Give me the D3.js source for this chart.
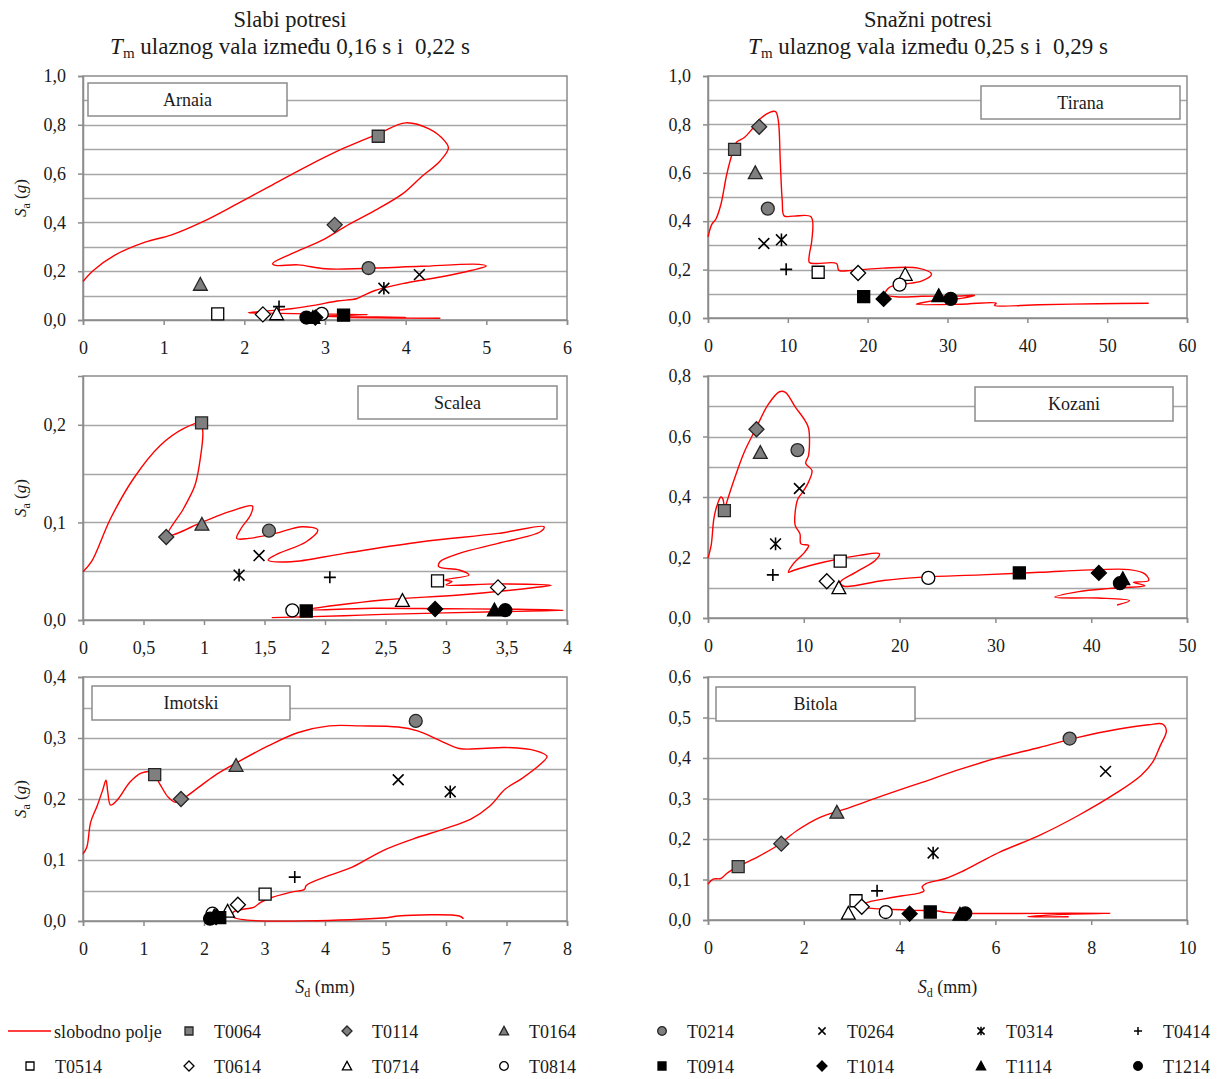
<!DOCTYPE html>
<html><head><meta charset="utf-8">
<script src="https://cdn.jsdelivr.net/npm/d3@7"></script>
<style>
body{margin:0;background:#fff}
svg{display:block}
text{font-family:"Liberation Serif","Times New Roman",serif;fill:#1a1a1a;white-space:pre}
</style>
</head><body>
<svg id="c" width="1221" height="1079"></svg>
<script>
// ---------------- DATA ----------------
const seriesNames = ["T0064","T0114","T0164","T0214","T0264","T0314","T0414","T0514","T0614","T0714","T0814","T0914","T1014","T1114","T1214"];
const freeFieldName = "slobodno polje";
const stations = ["Arnaia","Tirana","Scalea","Kozani","Imotski","Bitola"];
const columnTitles = ["Slabi potresi","Snažni potresi"];
const periodRanges = ["0,16 s i  0,22 s","0,25 s i  0,29 s"];

// marker values (Sd in mm, Sa in g), one per series
const arnaiaSd = [3.66,3.12,1.455,3.54,4.17,3.73,2.43,1.67,2.23,2.40,2.96,3.23,2.88,2.85,2.77];
const arnaiaSa = [0.753,0.39,0.146,0.213,0.186,0.13,0.055,0.025,0.023,0.025,0.025,0.02,0.01,0.01,0.01];
const tiranaSd = [3.33,6.41,5.92,7.49,7.0,9.2,9.79,13.8,18.8,24.7,24.0,19.5,22.0,28.9,30.4];
const tiranaSa = [0.697,0.79,0.6,0.452,0.308,0.323,0.201,0.189,0.186,0.18,0.138,0.088,0.079,0.092,0.079];
const scaleaSd = [0.98,0.688,0.983,1.537,1.455,1.29,2.04,2.93,3.43,2.64,1.73,1.845,2.91,3.40,3.49];
const scaleaSa = [0.202,0.085,0.098,0.0915,0.066,0.046,0.0437,0.040,0.0334,0.020,0.0099,0.0092,0.0113,0.0102,0.010];
const kozaniSd = [1.71,5.06,5.46,9.34,9.54,7.05,6.77,13.8,12.4,13.66,23.0,32.5,40.8,43.3,43.0];
const kozaniSa = [0.355,0.624,0.547,0.555,0.428,0.245,0.1425,0.188,0.1215,0.1,0.1326,0.149,0.149,0.13,0.115];
const imotskiSd = [1.185,1.62,2.53,5.50,5.21,6.07,3.50,3.01,2.56,2.39,2.14,2.26,2.20,2.17,2.10];
const imotskiSa = [0.24,0.2,0.255,0.328,0.2316,0.212,0.072,0.044,0.0267,0.016,0.012,0.0054,0.0065,0.008,0.0038];
const bitolaSd = [0.63,1.53,2.69,7.55,8.30,4.70,3.53,3.09,3.21,2.93,3.71,4.64,4.21,5.26,5.37];
const bitolaSa = [0.132,0.1885,0.266,0.448,0.367,0.1656,0.072,0.0475,0.0328,0.0164,0.0197,0.0197,0.0156,0.014,0.0164];

// free-field (slobodno polje) spectra, Sd (mm) and Sa (g)
const arnaiaFreeSd = [0,0.128,0.39,0.77,1.10,1.48,1.91,2.29,2.77,3.24,3.66,4.00,4.29,4.48,4.53,4.43,4.19,3.96,3.62,3.24,2.96,2.58,2.35,2.39,2.67,3.00,3.48,4.19,4.91,5.00,4.81,4.43,3.96,3.62,3.48,3.39,3.15,2.86,2.58,2.29,2.05,2.29,2.77,3.53,2.91,4.0,3.24,4.43];
const arnaiaFreeSa = [0.158,0.203,0.265,0.319,0.349,0.402,0.476,0.544,0.629,0.705,0.763,0.808,0.783,0.735,0.705,0.653,0.585,0.517,0.449,0.381,0.326,0.271,0.231,0.224,0.226,0.210,0.211,0.220,0.228,0.221,0.203,0.176,0.149,0.121,0.101,0.087,0.078,0.060,0.046,0.037,0.030,0.028,0.025,0.022,0.015,0.011,0.010,0.007];
const tiranaFreeSd = [0,0.49,0.98,1.62,2.35,3.08,3.57,4.55,5.53,6.51,7.73,8.47,8.81,9.05,9.30,9.54,10.7,12.9,13.0,12.7,12.7,13.6,16.1,16.4,18.0,21.9,26.3,28.0,26.8,24.4,22.7,22.2,23.9,26.8,31.7,33.4,31.7,29.3,26.8,26.1,31.7,36.1,35.9,41.5,48.9,55.2];
const tiranaFreeSa = [0.335,0.388,0.408,0.470,0.594,0.684,0.726,0.746,0.781,0.822,0.850,0.853,0.815,0.650,0.484,0.422,0.421,0.418,0.319,0.263,0.229,0.225,0.225,0.197,0.197,0.206,0.206,0.181,0.153,0.139,0.126,0.098,0.087,0.090,0.091,0.094,0.081,0.076,0.063,0.057,0.057,0.061,0.052,0.055,0.059,0.061];
const scaleaFreeSd = [0,0.07,0.228,0.418,0.64,0.83,0.97,0.99,0.97,0.925,0.83,0.70,0.99,1.21,1.40,1.385,1.31,1.27,1.37,1.59,1.81,1.94,1.845,1.59,1.53,1.72,2.16,2.80,3.43,3.81,3.78,3.43,3.11,2.95,2.94,3.11,3.19,2.99,3.05,3.0,3.43,3.87,3.75,3.11,2.48,1.86,2.40,3.00,3.59,3.97,3.43,2.48,2.16,1.56];
const scaleaFreeSa = [0.0495,0.0597,0.104,0.145,0.179,0.196,0.202,0.193,0.166,0.138,0.114,0.0867,0.1005,0.111,0.1168,0.1075,0.0945,0.0836,0.0836,0.0887,0.0956,0.0922,0.0802,0.0666,0.0614,0.0597,0.0683,0.0802,0.0887,0.0956,0.0904,0.0785,0.0683,0.0597,0.0546,0.0512,0.0461,0.041,0.0393,0.036,0.037,0.0355,0.0335,0.0256,0.0205,0.0105,0.012,0.0115,0.011,0.0099,0.0085,0.0058,0.0044,0.0024];
const kozaniFreeSd = [0,0.33,0.61,0.94,1.35,1.55,1.75,1.96,2.77,3.79,5.01,6.24,7.46,8.08,9.10,10.1,10.5,10.5,10.2,10.85,10.5,9.9,9.39,9.10,9.10,9.6,9.7,10.5,10.1,8.9,8.4,8.9,12.15,15.8,17.9,17.45,15.4,13.8,14.2,18.3,22.35,28.5,34.6,40.7,43.96,45.6,46.0,44.4,45.6,42.0,38.7,36.2,40.7,44.0,42.7];
const kozaniFreeSa = [0.198,0.24,0.328,0.372,0.40,0.394,0.361,0.383,0.461,0.549,0.627,0.704,0.748,0.746,0.698,0.654,0.627,0.538,0.511,0.488,0.450,0.417,0.394,0.350,0.306,0.278,0.245,0.240,0.218,0.179,0.151,0.157,0.185,0.207,0.212,0.190,0.151,0.118,0.105,0.124,0.135,0.1425,0.151,0.160,0.160,0.146,0.124,0.118,0.107,0.098,0.087,0.0685,0.066,0.0575,0.043];
const imotskiFreeSd = [0,0.063,0.127,0.235,0.33,0.38,0.41,0.456,0.58,0.77,0.96,1.15,1.27,1.41,1.53,1.66,1.91,2.17,2.55,3.06,3.56,4.07,4.58,5.21,5.53,5.91,6.22,6.6,6.98,7.49,7.67,7.56,7.24,6.98,6.73,6.41,5.97,5.46,4.96,4.45,4.07,3.69,3.66,3.44,3.06,2.93,2.83,2.61,2.485,2.485,5.02,5.21,6.22,6.29];
const imotskiFreeSa = [0.110,0.121,0.162,0.189,0.216,0.231,0.211,0.190,0.200,0.227,0.2425,0.2436,0.2245,0.2027,0.1945,0.201,0.219,0.238,0.260,0.287,0.309,0.3199,0.3199,0.318,0.3117,0.2954,0.2828,0.2828,0.2845,0.279,0.2698,0.257,0.2327,0.2163,0.189,0.167,0.151,0.1346,0.1155,0.0883,0.0747,0.0583,0.0518,0.0474,0.0365,0.030,0.0229,0.0185,0.0147,0.0065,0.0054,0.0082,0.0082,0.0038];
const bitolaFreeSd = [0,0.106,0.27,0.39,0.64,1.04,1.45,1.86,2.35,2.84,3.65,4.47,5.29,6.10,6.92,7.73,8.55,9.2,9.49,9.57,9.44,9.28,9.04,8.55,7.73,6.92,6.10,5.69,5.29,4.96,4.55,4.47,4.51,4.39,4.06,3.65,3.33,3.21,3.33,3.65,4.31,4.80,4.96,5.29,6.92,8.39,7.41,6.67,7.53];
const bitolaFreeSa = [0.0885,0.1008,0.1025,0.1148,0.1328,0.156,0.184,0.221,0.254,0.273,0.307,0.340,0.373,0.402,0.426,0.451,0.471,0.482,0.4836,0.467,0.430,0.389,0.357,0.3156,0.258,0.209,0.168,0.1434,0.119,0.1025,0.090,0.082,0.072,0.0656,0.060,0.0516,0.0434,0.0352,0.030,0.027,0.0238,0.0221,0.0189,0.0164,0.0164,0.0164,0.014,0.0082,0.0082];

// ---------------- LAYOUT / STYLE ----------------
const panelSd = [arnaiaSd,tiranaSd,scaleaSd,kozaniSd,imotskiSd,bitolaSd];
const panelSa = [arnaiaSa,tiranaSa,scaleaSa,kozaniSa,imotskiSa,bitolaSa];
const panelFreeSd = [arnaiaFreeSd,tiranaFreeSd,scaleaFreeSd,kozaniFreeSd,imotskiFreeSd,bitolaFreeSd];
const panelFreeSa = [arnaiaFreeSa,tiranaFreeSa,scaleaFreeSa,kozaniFreeSa,imotskiFreeSa,bitolaFreeSa];

const layout = [
  {x0:83,x1:567,yT:76,yB:320,xMax:6,xStep:1,yMax:1.0,yStep:0.2,gStep:0.1,box:[88,83,199,33],sa:true,sd:false},
  {x0:708,x1:1187,yT:76,yB:318,xMax:60,xStep:10,yMax:1.0,yStep:0.2,gStep:0.1,box:[981,86,199,33],sa:false,sd:false},
  {x0:83,x1:567,yT:376,yB:620,xMax:4,xStep:0.5,yMax:0.25,yStep:0.1,gStep:0.05,box:[358,386,199,33],sa:true,sd:false},
  {x0:708,x1:1187,yT:376,yB:618,xMax:50,xStep:10,yMax:0.8,yStep:0.2,gStep:0.1,box:[975,387,198,34],sa:false,sd:false},
  {x0:83,x1:567,yT:677,yB:921,xMax:8,xStep:1,yMax:0.4,yStep:0.1,gStep:0.05,box:[92,686,198,34],sa:true,sd:true},
  {x0:708,x1:1187,yT:677,yB:920,xMax:10,xStep:2,yMax:0.6,yStep:0.1,gStep:0.1,box:[716,687,199,34],sa:false,sd:true}
];

const GRAY = "#7f7f7f";
const markerStyles = [
  {shape:"square",fill:GRAY,stroke:"#262626"},
  {shape:"diamond",fill:GRAY,stroke:"#262626"},
  {shape:"triangle",fill:GRAY,stroke:"#262626"},
  {shape:"circle",fill:GRAY,stroke:"#262626"},
  {shape:"x",fill:"none",stroke:"#000"},
  {shape:"star",fill:"none",stroke:"#000"},
  {shape:"plus",fill:"none",stroke:"#000"},
  {shape:"square",fill:"#fff",stroke:"#000"},
  {shape:"diamond",fill:"#fff",stroke:"#000"},
  {shape:"triangle",fill:"#fff",stroke:"#000"},
  {shape:"circle",fill:"#fff",stroke:"#000"},
  {shape:"square",fill:"#000",stroke:"#000"},
  {shape:"diamond",fill:"#000",stroke:"#000"},
  {shape:"triangle",fill:"#000",stroke:"#000"},
  {shape:"circle",fill:"#000",stroke:"#000"}
];

function markerPath(shape, r){
  switch(shape){
    case "square": return `M${-r},${-r}H${r}V${r}H${-r}Z`;
    case "diamond": {const d=r*1.25; return `M0,${-d}L${d},0L0,${d}L${-d},0Z`;}
    case "triangle": {const a=r*1.15; return `M0,${-a}L${a},${a*0.85}L${-a},${a*0.85}Z`;}
    case "circle": {const c=r*1.08; return `M${c},0A${c},${c} 0 1,1 ${-c},0A${c},${c} 0 1,1 ${c},0Z`;}
    case "x": {const q=r*0.9; return `M${-q},${-q}L${q},${q}M${q},${-q}L${-q},${q}`;}
    case "star": {const q=r*0.9; return `M${-q},${-q}L${q},${q}M${q},${-q}L${-q},${q}M0,${-r*1.05}V${r*1.05}`;}
    case "plus": return `M${-r},0H${r}M0,${-r}V${r}`;
  }
}

const loc = d3.formatLocale({decimal:",",thousands:".",grouping:[3],currency:["",""]});
const yFmt = loc.format(".1f");
const xFmt = loc.format("~g");

const svg = d3.select("#c");
const GRID = "#a6a6a6", AXIS = "#8c8c8c";
const SERIF = "Liberation Serif, Times New Roman, serif";

layout.forEach((L,i)=>{
  const x = d3.scaleLinear().domain([0,L.xMax]).range([L.x0,L.x1]);
  const y = d3.scaleLinear().domain([0,L.yMax]).range([L.yB,L.yT]);
  const g = svg.append("g");

  // grid (horizontal)
  const gridVals = d3.range(0, L.yMax + 1e-9, L.gStep).filter(v=>v>1e-9 && v<L.yMax-1e-9);
  g.append("g").selectAll("line").data(gridVals).join("line")
    .attr("x1",L.x0).attr("x2",L.x1)
    .attr("y1",d=>Math.round(y(d))+0.5).attr("y2",d=>Math.round(y(d))+0.5)
    .attr("stroke",GRID).attr("stroke-width",1.4);

  // plot border
  g.append("rect").attr("x",L.x0).attr("y",L.yT).attr("width",L.x1-L.x0).attr("height",L.yB-L.yT)
    .attr("fill","none").attr("stroke",AXIS).attr("stroke-width",1.5);

  // axes
  const yTicks = d3.range(0, L.yMax + 1e-9, L.yStep).map(v=>+v.toFixed(4)).filter(v=>v<=L.yMax+1e-9);
  const xTicks = d3.range(0, L.xMax + 1e-9, L.xStep).map(v=>+v.toFixed(4));
  const ya = g.append("g").attr("transform",`translate(${L.x0},0)`)
    .call(d3.axisLeft(y).tickValues(yTicks).tickFormat(yFmt).tickSize(5).tickPadding(12));
  const xa = g.append("g").attr("transform",`translate(0,${L.yB})`)
    .call(d3.axisBottom(x).tickValues(xTicks).tickFormat(xFmt).tickSize(5).tickPadding(16));
  [ya,xa].forEach(a=>{
    a.attr("font-family",SERIF).attr("font-size",18);
    a.select(".domain").attr("stroke",AXIS).attr("stroke-width",1.5);
    a.selectAll(".tick line").attr("stroke",AXIS).attr("stroke-width",1.5);
    a.selectAll(".tick text").attr("font-size",18).attr("fill","#1a1a1a");
  });

  // station label box
  const [bx,by,bw,bh] = L.box;
  g.append("rect").attr("x",bx).attr("y",by).attr("width",bw).attr("height",bh)
    .attr("fill","#fff").attr("stroke","#8c8c8c").attr("stroke-width",1.5);
  g.append("text").attr("x",bx+bw/2).attr("y",by+bh/2+6).attr("text-anchor","middle")
    .attr("font-size",18).text(stations[i]);

  // free field curve
  const pts = panelFreeSd[i].map((d,k)=>[d,panelFreeSa[i][k]]);
  g.append("path").datum(pts)
    .attr("d", d3.line().x(d=>x(d[0])).y(d=>y(d[1])).curve(d3.curveCatmullRom.alpha(0.5)))
    .attr("fill","none").attr("stroke","#ff0000").attr("stroke-width",1.4);

  // markers
  const mk = seriesNames.map((n,k)=>({n,k,sd:panelSd[i][k],sa:panelSa[i][k]}));
  g.append("g").selectAll("path").data(mk).join("path")
    .attr("transform",d=>`translate(${x(d.sd)},${y(d.sa)})`)
    .attr("d",d=>markerPath(markerStyles[d.k].shape,6))
    .attr("fill",d=>markerStyles[d.k].fill)
    .attr("stroke",d=>markerStyles[d.k].stroke)
    .attr("stroke-width",d=>["x","star","plus"].includes(markerStyles[d.k].shape)?1.6:1.3);

  // axis titles
  if(L.sa){
    const t = svg.append("text").attr("transform",`translate(26,${(L.yT+L.yB)/2}) rotate(-90)`)
      .attr("text-anchor","middle").attr("font-size",17);
    t.append("tspan").attr("font-style","italic").text("S");
    t.append("tspan").attr("font-size",12).attr("dy",4).text("a");
    t.append("tspan").attr("dy",-4).text(" (");
    t.append("tspan").attr("font-style","italic").text("g");
    t.append("tspan").text(")");
  }
  if(L.sd){
    const t = svg.append("text").attr("x",(L.x0+L.x1)/2).attr("y",993)
      .attr("text-anchor","middle").attr("font-size",18);
    t.append("tspan").attr("font-style","italic").text("S");
    t.append("tspan").attr("font-size",12).attr("dy",4).text("d");
    t.append("tspan").attr("dy",-4).text(" (mm)");
  }
});

// column titles
[290,928].forEach((cx,j)=>{
  svg.append("text").attr("x",cx).attr("y",27).attr("text-anchor","middle").attr("font-size",22.5).text(columnTitles[j]);
  const t = svg.append("text").attr("x",cx).attr("y",54).attr("text-anchor","middle").attr("font-size",23);
  t.append("tspan").attr("font-style","italic").text("T");
  t.append("tspan").attr("font-size",15).attr("dy",4).text("m");
  t.append("tspan").attr("dy",-4).text(" ulaznog vala između " + periodRanges[j]);
});

// legend
const legendItems = [{name:freeFieldName,line:true}].concat(seriesNames.map((n,k)=>({name:n,k})));
const colX = [30,189,347,504,662,822,981,1138];
legendItems.forEach((it,idx)=>{
  const row = idx<8?0:1, col = idx<8?idx:idx-8;
  const ly = row===0?1033:1068;
  const mx = colX[col];
  const lg = svg.append("g");
  if(it.line){
    lg.append("line").attr("x1",8).attr("x2",51).attr("y1",ly-2).attr("y2",ly-2).attr("stroke","#ff0000").attr("stroke-width",1.6);
    lg.append("text").attr("x",54).attr("y",ly+5).attr("font-size",18).attr("letter-spacing",0.1).text(it.name);
  } else {
    const st = markerStyles[it.k];
    lg.append("path").attr("transform",`translate(${mx},${ly-2})`).attr("d",markerPath(st.shape,4))
      .attr("fill",st.fill).attr("stroke",st.stroke)
      .attr("stroke-width",["x","star","plus"].includes(st.shape)?1.5:1.3);
    lg.append("text").attr("x",mx+25).attr("y",ly+5).attr("font-size",18).text(it.name);
  }
});
</script>
</body></html>
